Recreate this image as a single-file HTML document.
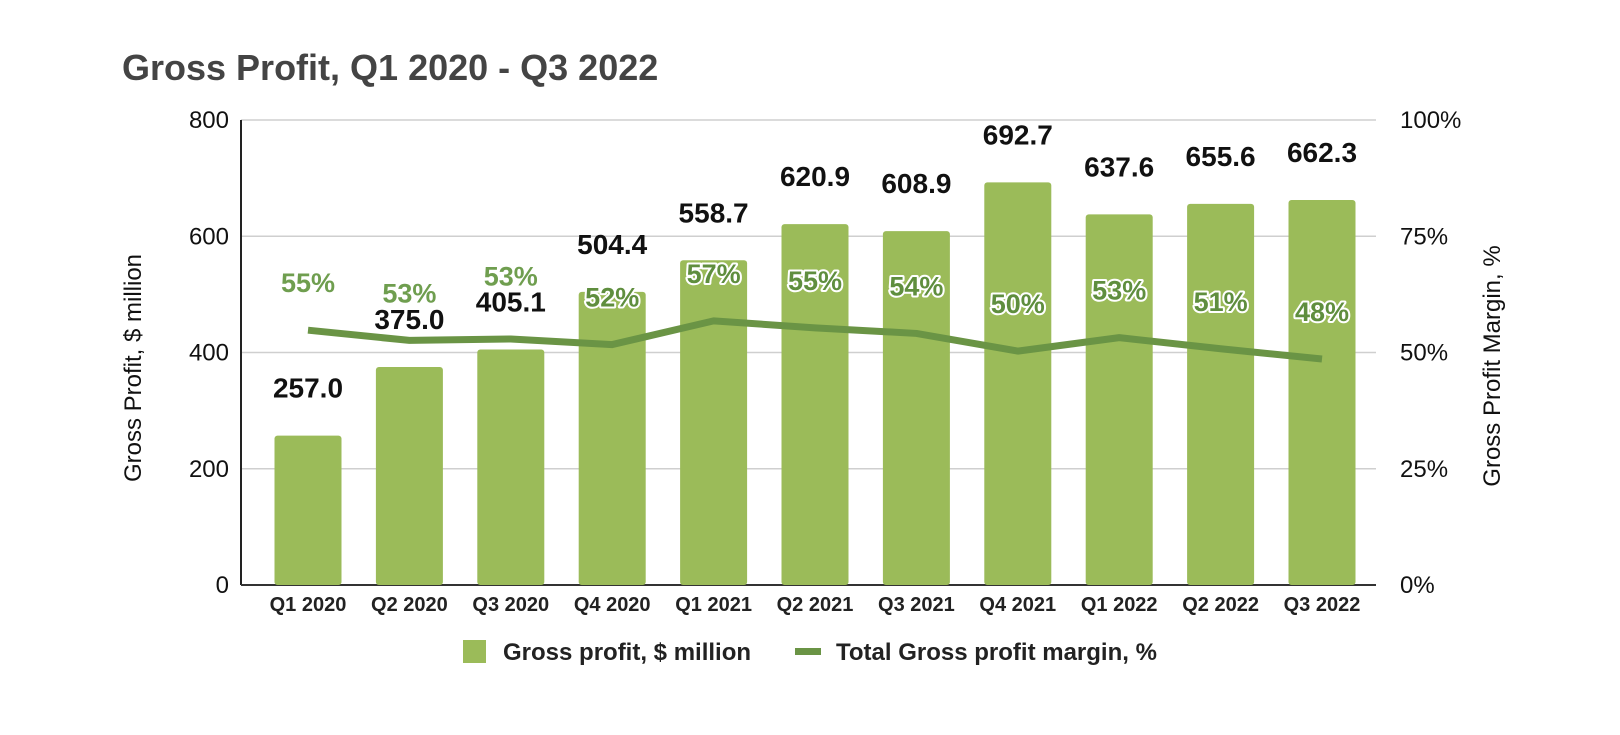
<!DOCTYPE html>
<html><head><meta charset="utf-8">
<style>
html,body{margin:0;padding:0;background:#fff;}
body{width:1620px;height:730px;overflow:hidden;font-family:"Liberation Sans",Arial,sans-serif;}
.halo{paint-order:stroke;stroke:#fff;stroke-width:4px;stroke-linejoin:round;}
</style></head>
<body>
<svg id="chart" width="1620" height="730" viewBox="0 0 1620 730" xmlns="http://www.w3.org/2000/svg">
<text x="122" y="80" font-size="36" font-weight="bold" fill="#444">Gross Profit, Q1 2020 - Q3 2022</text>
<g id="grid"></g>
<g id="bars"></g>
<g id="line"></g>
<g id="labels"></g>
<text transform="translate(141,368) rotate(-90)" text-anchor="middle" font-size="24" fill="#111">Gross Profit, $ million</text>
<text transform="translate(1500,366) rotate(-90)" text-anchor="middle" font-size="24" fill="#111">Gross Profit Margin, %</text>
<g>
<rect x="463" y="640" width="23" height="23" fill="#9bbb59"/>
<text x="503" y="660" font-size="24" font-weight="bold" fill="#222">Gross profit, $ million</text>
<rect x="795" y="648" width="26" height="7" fill="#6a9445"/>
<text x="836" y="660" font-size="24" font-weight="bold" fill="#222">Total Gross profit margin, %</text>
</g>
</svg>
<script>
const categories = ["Q1 2020","Q2 2020","Q3 2020","Q4 2020","Q1 2021","Q2 2021","Q3 2021","Q4 2021","Q1 2022","Q2 2022","Q3 2022"];
const profit = [257.0,375.0,405.1,504.4,558.7,620.9,608.9,692.7,637.6,655.6,662.3];
const margin = [54.8,52.6,52.9,51.7,56.8,55.3,54.1,50.3,53.2,50.8,48.6];
const marginLabels = ["55%","53%","53%","52%","57%","55%","54%","50%","53%","51%","48%"];
const leftTicks = [0,200,400,600,800];
const rightTicks = ["0%","25%","50%","75%","100%"];

const NS="http://www.w3.org/2000/svg";
const L=241,R=1376,T=120,B=585;
const yL=v=>B-v*(B-T)/800;
const yR=p=>B-p*(B-T)/100;
const xC=i=>308+i*101.4;
function mk(tag,attrs,parent,txt){const e=document.createElementNS(NS,tag);for(const k in attrs)e.setAttribute(k,attrs[k]);if(txt!==undefined)e.textContent=txt;parent.appendChild(e);return e;}
const grid=document.getElementById('grid'),bars=document.getElementById('bars'),line=document.getElementById('line'),labels=document.getElementById('labels');
leftTicks.forEach((t,i)=>{
  const y=yL(t);
  if(t>0){const g=mk('line',{x1:L,x2:R,y1:y,y2:y,stroke:'#cfcfcf','stroke-width':1.5},grid);
  
  }
  const tl=mk('text',{x:229,y:y+8,'text-anchor':'end','font-size':24,fill:'#111'},grid,t);
  
  
  const tr=mk('text',{x:1400,y:y+8,'font-size':24,fill:'#111'},grid,rightTicks[i]);
  
  
});
const ax=mk('line',{x1:L,x2:L,y1:T,y2:B,stroke:'#222','stroke-width':2},grid);


const bx=mk('line',{x1:L,x2:R,y1:B,y2:B,stroke:'#333','stroke-width':2},grid);


categories.forEach((c,i)=>{
  const x=xC(i),y=yL(profit[i]);
  const b=mk('rect',{x:x-33.5,y:y,width:67,height:B-y,rx:3,fill:'#9bbb59'},bars);
  
  
  const vb=y-38;
  const v=mk('text',{x:x,y:vb,'text-anchor':'middle','font-size':28,'font-weight':'bold',fill:'#111'},labels,profit[i].toFixed(1));
  
  
  const natural=yR(margin[i])-38;
  const inside = natural > y;
  const mb = inside ? natural : Math.min(natural, vb-26);
  const m=mk('text',{x:x,y:mb,'text-anchor':'middle','font-size':27,'font-weight':'bold',fill:inside?'#5f8e3e':'#6f9e4f','class':'halo'},labels,marginLabels[i]);
  
  
  const xl=mk('text',{x:x,y:611,'text-anchor':'middle','font-size':20,'font-weight':'bold',fill:'#222'},grid,c);
  
  
});
const pts=margin.map((p,i)=>xC(i)+','+yR(p)).join(' ');
const pl=mk('polyline',{points:pts,fill:'none',stroke:'#6a9445','stroke-width':7,'stroke-linejoin':'round'},line);


</script>
</body></html>
